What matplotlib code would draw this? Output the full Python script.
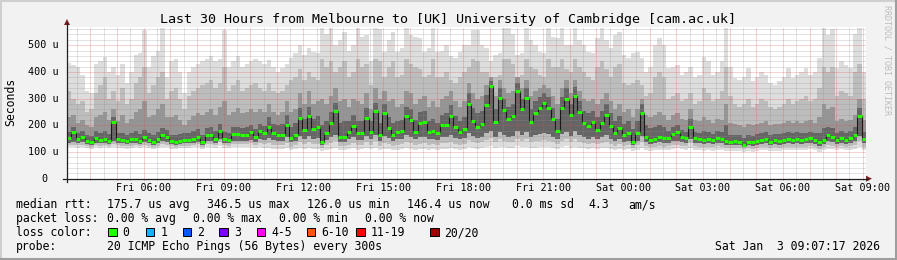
import numpy as np
import matplotlib
matplotlib.use("Agg")
import matplotlib.pyplot as plt
from matplotlib.patches import Rectangle, Polygon
from matplotlib.lines import Line2D

# ---------------- data ----------------
title = "Last 30 Hours from Melbourne to [UK] University of Cambridge [cam.ac.uk]"
x_tick_labels = ["Fri 06:00", "Fri 09:00", "Fri 12:00", "Fri 15:00", "Fri 18:00",
                 "Fri 21:00", "Sat 00:00", "Sat 03:00", "Sat 06:00", "Sat 09:00"]
y_tick_values = [0, 100, 200, 300, 400, 500]
y_tick_labels = ["0", "100 u", "200 u", "300 u", "400 u", "500 u"]

# median RTT per 10-minute sample (microseconds), 30 hours
median = [151,175,150,158,142,138,151,145,150,142,214,150,145,141,147,150,142,155,145,138,
          148,164,158,140,138,142,145,146,150,158,138,162,165,150,180,148,145,168,166,164,
          164,176,158,180,170,
          195,170,164,164,201,154,164,229,183,233,186,195,139,170,208,254,158,158,176,199,
          170,170,229,176,254,164,245,189,164,174,179,236,220,176,210,214,176,179,170,201,
          201,236,195,174,186,
          280,216,195,204,276,346,214,301,258,224,233,329,260,301,214,245,264,283,266,224,
          179,266,300,240,311,249,210,199,214,183,210,240,199,170,191,164,170,139,170,245,
          158,145,150,158,151,
          151,166,175,158,151,195,151,149,146,149,145,154,150,142,139,140,138,126,139,136,
          141,145,149,139,145,142,145,149,145,149,145,148,151,145,136,145,164,158,145,151,
          145,154,164,233,150]

smoke_max = [432,426,420,390,330,320,430,440,457,400,420,390,430,360,400,464,470,557,420,460,
             480,564,380,440,450,400,320,400,420,430,440,450,460,440,450,557,420,440,460,420,
             430,440,450,440,430,
             445,420,401,414,430,451,470,501,464,489,476,470,564,540,564,501,520,551,480,501,
             564,530,539,439,564,560,476,520,551,476,490,564,539,530,526,476,490,564,476,480,
             501,460,451,476,501,
             501,557,557,501,489,439,464,470,564,564,540,464,470,564,520,501,476,470,564,530,
             526,564,500,501,564,520,501,476,470,526,564,520,489,539,551,464,451,470,476,451,
             400,420,501,526,500,
             414,420,426,389,401,420,380,389,457,440,389,400,439,564,420,376,370,380,414,364,
             380,401,389,360,351,364,380,414,376,390,401,414,389,400,451,564,539,560,414,439,
             426,414,540,564,401]

smoke_p90 = [330,300,280,290,250,260,320,350,380,300,330,290,340,280,300,360,380,420,320,350,
             380,400,300,330,340,300,260,310,330,340,350,360,370,340,360,420,330,350,370,330,
             340,350,360,340,330,
             360,330,320,330,350,370,380,410,370,400,380,370,450,420,440,400,420,440,380,400,
             450,420,430,350,450,440,380,420,440,380,390,450,430,420,410,380,390,450,380,380,
             400,370,360,380,400,
             420,450,440,400,400,380,380,390,450,450,430,380,390,450,420,410,390,380,450,420,
             420,450,410,400,450,420,400,380,370,420,440,410,380,420,430,360,350,360,370,350,
             310,320,380,400,380,
             300,310,320,290,300,320,280,290,340,320,290,300,330,420,310,280,270,280,300,270,
             280,300,290,270,260,270,280,300,280,290,300,310,290,300,340,420,400,420,310,330,
             320,310,400,430,300]

smoke_p75 = [230,240,210,220,200,195,230,240,250,220,260,215,240,210,225,250,260,290,230,240,
             260,280,230,230,240,220,200,220,235,245,240,250,260,240,270,290,240,250,265,245,
             250,260,250,260,250,
             280,250,240,250,290,250,260,320,280,330,280,290,300,280,310,340,290,300,270,300,
             290,280,320,260,340,300,330,290,300,270,280,330,320,280,300,310,270,290,270,300,
             310,330,290,270,290,
             360,320,300,310,350,380,310,370,340,320,330,380,340,370,310,330,340,350,340,310,
             280,340,370,320,370,330,300,290,300,280,300,320,290,260,280,250,260,230,260,300,
             240,230,240,250,240,
             220,240,245,225,220,260,220,215,230,220,210,225,220,280,210,205,200,195,205,200,
             205,210,215,200,205,205,210,215,210,215,210,215,220,210,230,280,260,270,215,225,
             215,220,240,300,220]

smoke_p60 = [175,195,172,180,165,160,178,170,180,168,230,172,170,165,172,178,168,182,170,162,
             175,190,182,165,162,168,170,172,178,185,165,188,192,178,205,175,172,195,192,190,
             192,200,185,205,198,
             230,205,200,205,240,195,210,265,225,270,225,235,200,215,250,285,210,215,215,240,
             215,215,265,215,285,210,280,230,210,215,220,270,260,220,250,255,215,225,210,240,
             245,275,235,215,230,
             320,265,245,255,315,365,260,340,300,270,280,360,300,340,260,290,305,320,305,265,
             225,305,340,280,345,290,255,245,255,230,255,280,245,215,235,205,215,185,215,280,
             200,190,195,200,195,
             178,195,200,182,176,225,176,172,178,174,168,180,175,200,165,164,162,152,164,160,
             166,170,174,162,168,166,170,174,170,174,170,172,176,170,170,190,195,190,170,178,
             170,180,192,265,176]

smoke_low = [135,138,134,136,130,128,134,132,135,130,140,134,132,130,133,134,130,136,132,128,
             133,140,138,130,128,130,132,133,134,138,128,140,142,134,150,134,132,142,142,140,
             140,146,138,148,144,
             152,146,142,142,155,136,142,160,150,160,150,152,128,145,155,165,138,138,148,155,
             145,145,160,148,165,142,160,152,142,148,150,162,158,148,155,158,148,150,145,155,
             155,162,152,148,152,
             170,160,152,158,170,180,158,175,165,158,160,178,165,175,158,165,168,172,168,158,
             148,168,175,160,178,162,155,150,155,148,155,162,150,140,150,138,142,128,142,160,
             136,130,132,136,134,
             134,140,142,136,134,150,134,132,130,132,130,135,132,128,126,127,126,120,126,124,
             128,130,132,126,130,128,130,132,130,132,130,132,134,130,124,130,140,136,130,134,
             130,135,140,160,133]

smoke_p10 = [126,128,125,127,122,120,126,124,126,122,130,125,123,121,124,126,122,127,124,119,
             124,130,128,121,120,122,124,124,126,129,119,129,131,125,136,125,123,131,130,129,
             129,133,127,133,130,
             132,128,125,126,133,120,125,136,130,136,129,131,116,125,132,140,121,122,128,133,
             125,126,136,128,140,123,135,130,123,127,129,137,134,127,131,134,127,129,125,132,
             133,137,130,127,130,
             145,138,132,136,144,151,136,148,142,136,138,150,142,148,136,140,143,146,143,136,
             129,143,148,138,149,139,134,131,134,129,134,139,131,124,131,123,126,116,125,138,
             121,117,119,122,120,
             121,126,128,123,121,133,121,119,117,119,117,122,119,116,114,116,114,110,114,112,
             116,118,120,114,117,116,118,120,118,120,118,120,122,118,112,118,126,123,118,122,
             118,121,126,140,120]

smoke_min = [118,120,116,118,114,112,118,116,118,114,120,116,114,112,116,118,114,118,116,110,
             116,120,118,112,112,114,116,116,118,120,110,118,120,116,122,116,114,120,118,118,
             118,120,116,118,116,
             116,112,110,112,114,106,110,116,112,114,110,112,104,108,112,116,106,108,110,114,
             108,110,114,110,116,106,112,110,106,108,110,114,112,108,110,112,108,110,106,110,
             112,114,110,108,110,
             120,116,112,114,118,122,114,120,118,114,116,122,118,120,114,116,118,120,118,114,
             110,118,122,116,120,116,114,112,114,110,114,116,112,108,112,108,110,104,108,116,
             106,104,106,108,106,
             108,112,114,110,108,116,108,106,104,106,104,108,106,104,102,104,102,100,102,100,
             104,106,108,102,104,104,106,108,106,108,106,108,110,106,100,106,112,110,106,110,
             106,108,112,120,108]

legend_rtt = ["175.7 us avg", "346.5 us max", "126.0 us min", "146.4 us now", "0.0 ms sd", "4.3", "am/s"]
legend_loss = ["0.00 % avg", "0.00 % max", "0.00 % min", "0.00 % now"]
loss_labels = ["0", "1", "2", "3", "4-5", "6-10", "11-19", "20/20"]
loss_colors = ["#26ff00", "#00b8ff", "#0059ff", "#7e00ff", "#ff00ff", "#ff5500", "#ff0000", "#a10000"]
probe_text = "20 ICMP Echo Pings (56 Bytes) every 300s"
timestamp = "Sat Jan  3 09:07:17 2026"

# ---------------- layout ----------------
W, H = 897, 260
MONO = "DejaVu Sans Mono"
fig = plt.figure(figsize=(W / 100, H / 100), dpi=100)
fig.patch.set_facecolor("#F2F2F2")

L, R, T, B = 67, 866, 27, 178.7
ax = fig.add_axes([L / W, 1 - B / H, (R - L) / W, (B - T) / H])
ax.set_facecolor("white")
for s in ax.spines.values():
    s.set_visible(False)

n = len(median)
span_h = 30.0
edges = np.arange(n + 1) * span_h / n


def ext(a):
    a = np.asarray(a, float)
    return np.append(a, a[-1])


layers = [(smoke_min, smoke_max, "#DDDDDD"),
          (smoke_p10, smoke_p90, "#BDBDBD"),
          (smoke_low, smoke_p75, "#959595"),
          (smoke_low, smoke_p60, "#656565")]
for lo, hi, c in layers:
    ax.fill_between(edges, ext(lo), ext(hi), step="post", color=c, lw=0, zorder=1)

ax.set_xlim(0, span_h)
ax.set_ylim(0, 568)
ax.set_xticks([])
ax.set_yticks([])

# grid
start_h = 3 + 7 / 60 + 17 / 3600
first_hour = 4 - start_h
hour_lines = first_hour + np.arange(30)
half_lines = np.arange(first_hour - 0.5, span_h, 1.0)
grid_c = (0.56, 0.56, 0.56, 0.5)
mgrid_c = (0.87, 0.31, 0.31, 0.5)
dot = (0, (1, 1))
for xv in half_lines:
    ax.axvline(xv, color=grid_c, lw=0.72, ls=dot, zorder=3, snap=True)
for yv in range(20, 568, 20):
    if yv % 100:
        ax.axhline(yv, color=grid_c, lw=0.72, ls=dot, zorder=3, snap=True)
for xv in hour_lines:
    ax.axvline(xv, color=mgrid_c, lw=0.72, ls=dot, zorder=3, snap=True)
for yv in y_tick_values[1:]:
    ax.axhline(yv, color=mgrid_c, lw=0.72, ls=dot, zorder=3, snap=True)

# median line
ax.step(edges, ext(median), where="post", color="#1a1a1a", lw=0.8, zorder=5)
ax.hlines(median, edges[:-1], edges[1:], color=loss_colors[0], lw=2.2, zorder=6)

# x ticks below axis
ax.vlines(half_lines, -6, 0, color=(0.56, 0.56, 0.56), lw=0.72, clip_on=False, zorder=4)
ax.vlines(hour_lines, -6, 0, color=(0.87, 0.45, 0.45), lw=0.72, clip_on=False, zorder=4)

# x tick labels (every 3 hours)
xt = ax.get_xaxis_transform()
for k, lab in enumerate(x_tick_labels):
    xv = hour_lines[2 + 3 * k]
    ax.text(xv, (B - 190.7) / (B - T), lab, transform=xt, ha="center", va="baseline",
            family=MONO, fontsize=7.3, color="black")

# y tick labels
yt = ax.get_yaxis_transform()
for v, lab in zip(y_tick_values, y_tick_labels):
    xr = 59 if v else 47
    ax.text((xr - L) / (R - L), v, lab, transform=yt, ha="right", va="center",
            family=MONO, fontsize=7.3, color="black")


def px(x, y):
    return x / W, 1 - y / H


# axes lines and arrows
axis_c = (0.12, 0.12, 0.12)
arrow_c = (0.5, 0.12, 0.12)
fig.add_artist(Line2D([px(63, 0)[0], px(868, 0)[0]], [px(0, B)[1]] * 2, color=axis_c, lw=0.9))
fig.add_artist(Line2D([px(L, 0)[0]] * 2, [px(0, B + 3)[1], px(0, 23)[1]], color=axis_c, lw=0.9))
fig.add_artist(Polygon([px(866, B - 3), px(866, B + 3), px(872, B)], closed=True,
                       color=arrow_c, lw=0))
fig.add_artist(Polygon([px(L - 3, 25), px(L + 3, 25), px(L, 19)], closed=True,
                       color=arrow_c, lw=0))


# texts
def t(x, y, s, **kw):
    kw.setdefault("family", MONO)
    kw.setdefault("fontsize", 8.3)
    kw.setdefault("va", "baseline")
    fig.text(x / W, 1 - y / H, s, **kw)


t(448, 23.3, title, fontsize=9.65, ha="center")
t(11, 102, "Seconds", rotation=90, ha="center", va="center")
t(887, 60, "RRDTOOL / TOBI OETIKER", rotation=270, ha="center", va="center",
  fontsize=6, color="#BDBDBD")

rtt_x = [107, 207, 307, 407, 512, 588, 628]
t(16, 208.3, "median rtt:")
for xx, s in zip(rtt_x, legend_rtt):
    t(xx, 208.3, s)

loss_x = [107, 193, 279, 365]
t(16, 222.3, "packet loss:")
for xx, s in zip(loss_x, legend_loss):
    t(xx, 222.3, s)

t(16, 236.3, "loss color:")
sq_x = [108, 145.7, 182.7, 219.3, 256.7, 306.7, 356, 430]
for xx, lab, c in zip(sq_x, loss_labels, loss_colors):
    x0, y0 = px(xx, 236.3)
    fig.add_artist(Rectangle((x0, y0), 8.5 / W, 8.5 / H, facecolor=c, edgecolor="black", lw=0.7))
    t(xx + 14.5, 236.3, lab)

t(16, 250.3, "probe:")
t(107, 250.3, probe_text)
t(880, 249.5, timestamp, ha="right")

# 3D border
fig.add_artist(Line2D([0, 1], [1 - 1 / H] * 2, color="#CFCFCF", lw=1.5))
fig.add_artist(Line2D([1 / W] * 2, [0, 1], color="#CFCFCF", lw=1.5))
fig.add_artist(Line2D([0, 1], [1 / H] * 2, color="#9E9E9E", lw=1.5))
fig.add_artist(Line2D([1 - 1 / W] * 2, [0, 1], color="#9E9E9E", lw=1.5))

fig.savefig("out.png", dpi=100, facecolor=fig.get_facecolor())
